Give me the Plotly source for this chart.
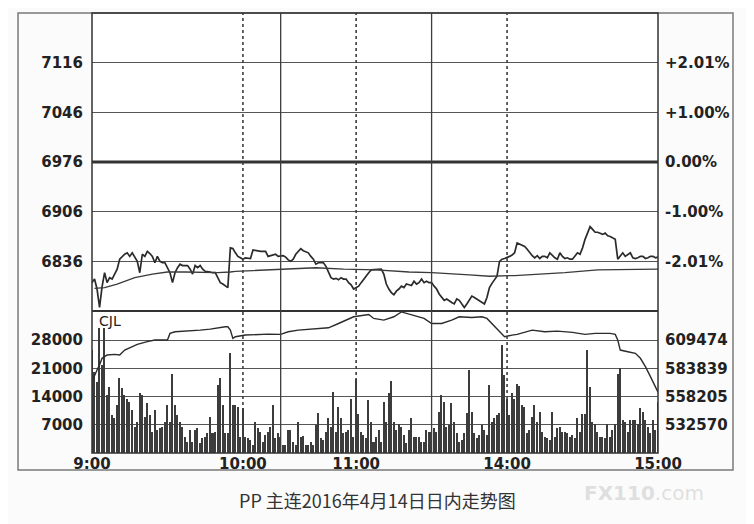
import plotly.graph_objects as go

# trading sessions of the PP contract (day session)
SESSIONS = [("9:00", "10:15"), ("10:30", "11:30"), ("13:30", "15:00")]

PREV_CLOSE = 6976
PRICE_TICKS = [6836, 6906, 6976, 7046, 7116]
VOL_TICKS = [7000, 14000, 21000, 28000]
OI_TICKS = [532570, 558205, 583839, 609474]
X_LABELS = ["9:00", "10:00", "11:00", "14:00", "15:00"]
SOLID_TIMES = ["10:15", "11:30"]
DOTTED_TIMES = ["10:00", "11:00", "14:00"]

# one value per trading minute, 9:00 .. 15:00
PRICE = [
    6806, 6811, 6797, 6771, 6800, 6820, 6806, 6813, 6811, 6818,
    6825, 6839, 6843, 6846, 6848, 6843, 6848, 6841, 6836, 6820,
    6846, 6843, 6850, 6847, 6843, 6834, 6843, 6836, 6834, 6834,
    6827, 6820, 6806, 6820, 6827, 6832, 6830, 6830, 6830, 6825,
    6818, 6830, 6827, 6830, 6825, 6822, 6822, 6821, 6820, 6820,
    6813, 6806, 6804, 6801, 6799, 6855, 6854, 6848, 6843, 6841,
    6839, 6841, 6840, 6840, 6852, 6851, 6850, 6850, 6850, 6850,
    6843, 6844, 6845, 6846, 6843, 6844, 6844, 6842, 6838, 6836,
    6839, 6846, 6850, 6854, 6851, 6850, 6848, 6843, 6839, 6832,
    6834, 6834, 6834, 6829, 6820, 6813, 6811, 6812, 6810, 6813,
    6811, 6811, 6806, 6803, 6797, 6799, 6801, 6806, 6811, 6816,
    6820, 6824, 6824, 6824, 6825, 6825, 6818, 6804, 6797, 6792,
    6789, 6794, 6797, 6801, 6799, 6804, 6803, 6802, 6808, 6804,
    6806, 6811, 6806, 6808, 6806, 6806, 6801, 6797, 6790, 6785,
    6781, 6783, 6780, 6778, 6776, 6783, 6781, 6776, 6771, 6776,
    6781, 6787, 6785, 6783, 6781, 6779, 6776, 6785, 6799, 6805,
    6811, 6815, 6836, 6839, 6840, 6841, 6843, 6845, 6848, 6862,
    6860, 6858, 6857, 6853, 6848, 6844, 6841, 6844, 6840, 6843,
    6843, 6841, 6848, 6844, 6841, 6839, 6848, 6843, 6840, 6841,
    6839, 6839, 6843, 6848, 6846, 6855, 6867, 6876, 6885, 6881,
    6877, 6877, 6875, 6874, 6876, 6872, 6871, 6869, 6867, 6839,
    6843, 6848, 6843, 6845, 6848, 6841, 6840, 6841, 6843, 6843,
    6840, 6841, 6843, 6843, 6841, 6842,
]

VOLUME = [
    25500, 20000, 17700, 31000, 21800, 31000, 14400, 16400, 9400, 8600,
    11900, 18500, 16000, 14400, 13500, 12700, 10600, 6500, 7800, 14800,
    14400, 9000, 12300, 9400, 5300, 10600, 5700, 6100, 6500, 7800,
    11900, 7800, 19700, 11900, 9400, 7800, 6500, 4000, 2800, 5700,
    2800, 5700, 6100, 2400, 3600, 4000, 4900, 9000, 4900, 5300,
    16800, 18500, 11900, 4900, 4900, 24700, 11900, 11900, 11500, 4000,
    11200, 4000, 3600, 3200, 2000, 7800, 6100, 5300, 2800, 4500,
    5300, 6500, 11900, 3600, 4900, 4000, 2000, 2000, 5700, 5700,
    2800, 2000, 7800, 4000, 4200, 2000, 2000, 2800, 2000, 7000,
    9800, 3600, 3200, 5300, 8600, 6500, 15000, 5300, 11500, 8600,
    4900, 5300, 5700, 13500, 4000, 18300, 9600, 5300, 4500, 3600,
    13100, 7800, 2800, 4000, 5700, 2800, 12700, 7800, 14800, 17800,
    7800, 5700, 7300, 6500, 4500, 2400, 5700, 8600, 4000, 4000,
    4000, 2800, 2800, 5700, 5300, 5300, 6100, 5300, 10200, 14400,
    12700, 6500, 7000, 12300, 7800, 4900, 2800, 3200, 4900, 9800,
    20600, 10200, 4900, 3600, 4500, 7000, 5700, 4500, 16800, 7800,
    8600, 9400, 9800, 26800, 19300, 13500, 9400, 14800, 13500, 17000,
    16700, 11900, 11500, 4900, 5700, 9000, 11900, 7800, 10200, 5300,
    4000, 3600, 3200, 10200, 4000, 6100, 6500, 5300, 5300, 4900,
    4000, 4500, 3600, 8600, 5300, 9600, 9600, 25500, 16400, 7800,
    7300, 5300, 4000, 4000, 3600, 7300, 4000, 5700, 7300, 19700,
    21000, 8200, 7800, 5300, 8200, 8200, 8200, 7300, 11100, 10200,
    8200, 6500, 4900, 8200, 5700, 12700,
]

AVG_MIN = [1, 5, 10, 17, 24, 30, 37, 50, 55, 57, 64, 75, 89, 100, 113, 126,
           135, 150, 158, 168, 188, 201, 214, 225]
AVG_PRICE = [6798, 6799, 6804, 6813, 6818, 6821, 6821, 6820, 6821, 6822, 6823,
             6825, 6827, 6825, 6824, 6821, 6820, 6817, 6815, 6816, 6820, 6824,
             6825, 6825]

OI_MIN = [0, 1, 2, 3, 4, 5, 6, 9, 11, 13, 16, 18, 22, 25, 30, 31, 33, 38, 43,
          47, 50, 53, 54, 55, 56, 57, 61, 65, 70, 75, 78, 82, 87, 94, 98, 104,
          110, 112, 116, 120, 123, 127, 132, 135, 139, 143, 146, 151, 155, 157,
          161, 163, 164, 167, 169, 175, 180, 185, 191, 196, 200, 206, 208, 209,
          210, 213, 216, 218, 220, 222, 224, 225]
OPEN_INT = [571800, 577800, 582300, 586900, 592900, 594400, 595900, 596500,
            595900, 600400, 603400, 605600, 608000, 609500, 609500, 615500,
            617000, 617600, 618500, 619400, 620600, 621500, 621500, 618500,
            611000, 612500, 614000, 614600, 614900, 614600, 617000, 618500,
            619400, 620600, 624500, 630600, 632700, 629100, 627600, 630600,
            635000, 632100, 629100, 624500, 624500, 627600, 630600, 630000,
            630600, 629100, 620000, 615500, 612500, 614000, 614600, 618500,
            617000, 617600, 616400, 614600, 615500, 615500, 614600, 609500,
            600400, 598900, 597400, 592900, 585400, 576300, 565700, 562100]


def trade_minute(t):
    h, m = map(int, t.split(":"))
    clock = h * 60 + m
    offset = 0
    for start, end in SESSIONS:
        s = int(start.split(":")[0]) * 60 + int(start.split(":")[1])
        e = int(end.split(":")[0]) * 60 + int(end.split(":")[1])
        if s <= clock <= e:
            return offset + clock - s
        offset += e - s
    return offset


def pct_label(p):
    v = (p - PREV_CLOSE) / PREV_CLOSE * 100
    if abs(v) < 0.005:
        return "0.00%"
    return f"{v:+.2f}%"


minutes = list(range(len(PRICE)))
x_end = trade_minute("15:00")

SPLIT = 0.3227
VOL_TOP = 35200
PRICE_RANGE = [6766, 7186]
oi_per_vol = (OI_TICKS[-1] - OI_TICKS[0]) / (VOL_TICKS[-1] - VOL_TICKS[0])
oi_base = OI_TICKS[0] - VOL_TICKS[0] * oi_per_vol
OI_RANGE = [oi_base, oi_base + VOL_TOP * oi_per_vol]

INK = "#2b2b2b"
GRID = "#555555"
tick_font = dict(family="DejaVu Sans", size=15, color="#222", weight="bold")

fig = go.Figure()
fig.add_trace(go.Bar(x=minutes, y=VOLUME, xaxis="x", yaxis="y3", width=0.6,
                     marker=dict(color="#3c3c3c", line=dict(width=0))))
fig.add_trace(go.Scatter(x=OI_MIN, y=OPEN_INT, xaxis="x", yaxis="y4", mode="lines",
                         line=dict(color=INK, width=1.4)))
# average price drawn on the percent axis (same range) so that axis is rendered
fig.add_trace(go.Scatter(x=AVG_MIN, y=AVG_PRICE, xaxis="x", yaxis="y2", mode="lines",
                         line=dict(color="#3a3a3a", width=1.3)))
fig.add_trace(go.Scatter(x=minutes, y=PRICE, xaxis="x", yaxis="y", mode="lines",
                         line=dict(color=INK, width=1.7)))

shapes = [
    # outer frame
    dict(type="rect", xref="paper", yref="paper", x0=-0.1307, x1=1.1325, y0=-0.0386, y1=1,
         line=dict(color="#7a7a7a", width=1.5)),
    # plot border and panel divider
    dict(type="rect", xref="paper", yref="paper", x0=0, x1=1, y0=0, y1=1,
         line=dict(color="#333", width=1.5)),
    dict(type="line", xref="paper", yref="paper", x0=0, x1=1, y0=SPLIT, y1=SPLIT,
         line=dict(color="#333", width=2.2)),
    # previous close
    dict(type="line", xref="paper", yref="y", x0=0, x1=1, y0=PREV_CLOSE, y1=PREV_CLOSE,
         line=dict(color="#333", width=3)),
]
for t in SOLID_TIMES:
    m = trade_minute(t)
    shapes.append(dict(type="line", xref="x", yref="paper", x0=m, x1=m, y0=0, y1=1,
                       line=dict(color="#3d3d3d", width=1.3)))
for t in DOTTED_TIMES:
    m = trade_minute(t)
    shapes.append(dict(type="line", xref="x", yref="paper", x0=m, x1=m, y0=0, y1=1,
                       line=dict(color="#3d3d3d", width=1.6, dash="dot")))

# the page adds an 8px body margin, so the figure is 8px smaller than the window
fig.update_layout(
    width=746, height=516,
    margin=dict(l=84, r=96, t=5, b=71),
    paper_bgcolor="#fbfbfb", plot_bgcolor="#ffffff",
    showlegend=False, bargap=0,
    shapes=shapes,
    xaxis=dict(domain=[0, 1], range=[0, x_end], anchor="y3",
               tickvals=[trade_minute(t) for t in X_LABELS], ticktext=X_LABELS,
               showgrid=False, zeroline=False, ticks="", tickfont=tick_font),
    yaxis=dict(domain=[SPLIT, 1], range=PRICE_RANGE, anchor="x", tickvals=PRICE_TICKS,
               ticktext=[str(p) for p in PRICE_TICKS],
               showgrid=True, gridcolor=GRID, gridwidth=1, zeroline=False, ticks="",
               ticklabelstandoff=8, tickfont=tick_font),
    yaxis2=dict(overlaying="y", side="right", range=PRICE_RANGE, anchor="x",
                tickvals=PRICE_TICKS, ticktext=[pct_label(p) for p in PRICE_TICKS],
                showgrid=False, zeroline=False, ticks="", ticklabelstandoff=6,
                tickfont=tick_font),
    yaxis3=dict(domain=[0, SPLIT], range=[0, VOL_TOP], anchor="x", tickvals=VOL_TICKS,
                ticktext=[str(v) for v in VOL_TICKS],
                showgrid=True, gridcolor=GRID, gridwidth=1, zeroline=False, ticks="",
                ticklabelstandoff=8, tickfont=tick_font),
    yaxis4=dict(overlaying="y3", side="right", range=OI_RANGE, anchor="x",
                tickvals=OI_TICKS, ticktext=[str(v) for v in OI_TICKS],
                showgrid=False, zeroline=False, ticks="", ticklabelstandoff=6,
                tickfont=tick_font),
    annotations=[
        dict(text="CJL", xref="paper", yref="paper", x=0.008, y=0.30, xanchor="left",
             yanchor="middle", showarrow=False,
             font=dict(family="DejaVu Sans", size=14, color="#222")),
        dict(text="PP 主连2016年4月14日日内走势图", xref="paper", yref="paper",
             x=0.504, y=-0.107, xanchor="center", yanchor="middle", showarrow=False,
             font=dict(family="Noto Sans CJK SC", size=18, color="#333")),
        dict(text="<b>FX110</b>.com", xref="paper", yref="paper", x=0.975, y=-0.09,
             xanchor="center", yanchor="middle", showarrow=False,
             font=dict(family="DejaVu Sans", size=20, color="rgba(200,200,200,0.55)")),
    ],
)

fig.write_html("out.html")
